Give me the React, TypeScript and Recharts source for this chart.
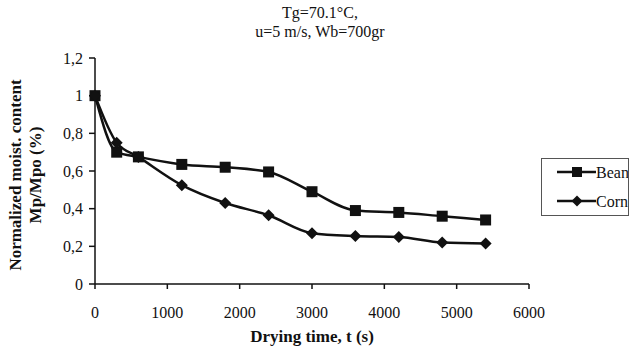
import { LineChart, Line, XAxis, YAxis } from "recharts";

const times = [0, 300, 600, 1200, 1800, 2400, 3000, 3600, 4200, 4800, 5400];
const bean = [1.0, 0.7, 0.675, 0.635, 0.62, 0.595, 0.49, 0.39, 0.38, 0.36, 0.34];
const corn = [1.0, 0.75, 0.675, 0.525, 0.43, 0.365, 0.27, 0.255, 0.25, 0.22, 0.215];
const xTicks = [0, 1000, 2000, 3000, 4000, 5000, 6000];
const yTicks = [0, 0.2, 0.4, 0.6, 0.8, 1, 1.2];

const data = times.map((t, i) => ({ t, bean: bean[i], corn: corn[i] }));

const font = "'Liberation Serif', 'Times New Roman', serif";

const SquareDot = (props: any) => {
  const { cx, cy } = props;
  if (cx == null || cy == null) return null;
  return <rect x={cx - 5.5} y={cy - 5.5} width={11} height={11} fill="#111" />;
};

const DiamondDot = (props: any) => {
  const { cx, cy } = props;
  if (cx == null || cy == null) return null;
  return (
    <polygon
      points={`${cx},${cy - 6} ${cx + 6},${cy} ${cx},${cy + 6} ${cx - 6},${cy}`}
      fill="#111"
    />
  );
};

// boxed legend to the right of the plot
const LegendBox = () => (
  <div
    style={{
      position: "absolute",
      left: 541,
      top: 158,
      border: "1px solid #555",
      width: 88,
      height: 58,
      boxSizing: "border-box",
    }}
  >
    <svg width={86} height={56} style={{ display: "block" }}>
      <line x1={15} y1={13} x2={54} y2={13} stroke="#111" strokeWidth={2.5} />
      <rect x={30} y={8} width={10} height={10} fill="#111" />
      <text x={54} y={18.5} fontFamily={font} fontSize={16} fill="#111">
        Bean
      </text>
      <line x1={15} y1={42} x2={54} y2={42} stroke="#111" strokeWidth={2.5} />
      <polygon points="35,36.5 40.5,42 35,47.5 29.5,42" fill="#111" />
      <text x={54} y={47.5} fontFamily={font} fontSize={16} fill="#111">
        Corn
      </text>
    </svg>
  </div>
);

export default function App() {
  return (
    <div
      style={{
        position: "absolute",
        left: 0,
        top: 0,
        width: 638,
        height: 354,
        background: "#fff",
        fontFamily: font,
        color: "#111",
      }}
    >
      <div
        style={{
          position: "absolute",
          left: 0,
          width: 640,
          top: 3,
          textAlign: "center",
          fontSize: 16,
          lineHeight: "19px",
        }}
      >
        Tg=70.1°C,
        <br />
        u=5 m/s, Wb=700gr
      </div>
      <svg width={50} height={354} style={{ position: "absolute", left: 0, top: 0 }}>
        <text
          transform="translate(21,175) rotate(-90)"
          textAnchor="middle"
          fontFamily={font}
          fontSize={17}
          fontWeight="bold"
          fill="#111"
        >
          <tspan x={0} dy={0}>Normalized moist. content</tspan>
          <tspan x={0} dy={20}>Mp/Mpo (%)</tspan>
        </text>
      </svg>
      <div
        style={{
          position: "absolute",
          left: 95,
          width: 434,
          top: 327,
          textAlign: "center",
          fontSize: 17,
          fontWeight: "bold",
        }}
      >
        Drying time, t (s)
      </div>
      <LegendBox />
      <LineChart
        width={638}
        height={354}
        data={data}
        margin={{ top: 58, right: 109, bottom: 40, left: 55 }}
        style={{ position: "absolute", left: 0, top: 0 }}
      >
        <XAxis
          dataKey="t"
          type="number"
          domain={[0, 6000]}
          ticks={xTicks}
          stroke="#111"
          strokeWidth={1.5}
          tickSize={5}
          tickMargin={18}
          height={30}
          tick={{ fill: "#111", fontFamily: font, fontSize: 16 }}
        />
        <XAxis
          xAxisId="top"
          orientation="top"
          dataKey="t"
          type="number"
          domain={[0, 6000]}
          stroke="#111"
          strokeWidth={1.5}
          tick={false}
          tickLine={false}
          height={0}
        />
        <YAxis
          type="number"
          domain={[0, 1.2]}
          ticks={yTicks}
          stroke="#111"
          strokeWidth={1.5}
          tickSize={6}
          tickMargin={6}
          width={40}
          tickFormatter={(v: number) => String(Math.round(v * 10) / 10).replace(".", ",")}
          tick={{ fill: "#111", fontFamily: font, fontSize: 16 }}
        />
        <YAxis
          yAxisId="right"
          orientation="right"
          type="number"
          domain={[0, 1.2]}
          stroke="#111"
          strokeWidth={1.5}
          tick={false}
          tickLine={false}
          width={0}
        />
        <Line
          dataKey="bean"
          name="Bean"
          type="monotone"
          stroke="#111"
          strokeWidth={2.5}
          dot={<SquareDot />}
          activeDot={false}
          isAnimationActive={false}
        />
        <Line
          dataKey="corn"
          name="Corn"
          type="monotone"
          stroke="#111"
          strokeWidth={2.5}
          dot={<DiamondDot />}
          activeDot={false}
          isAnimationActive={false}
        />
      </LineChart>
    </div>
  );
}
